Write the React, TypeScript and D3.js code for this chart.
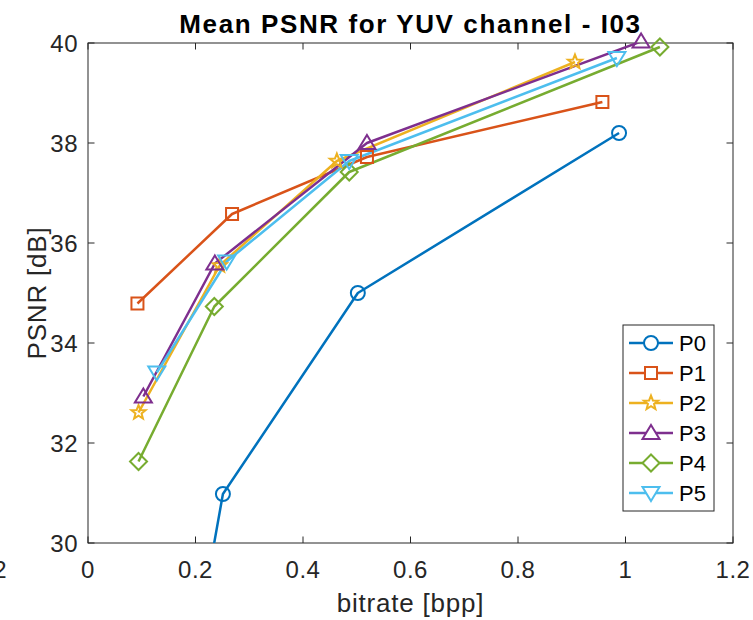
import React from "react";
import * as d3 from "d3";

// series names and MATLAB default colours
const seriesNames = ["P0", "P1", "P2", "P3", "P4", "P5"];
const seriesColors = ["#0072BD", "#D95319", "#EDB120", "#7E2F8E", "#77AC30", "#4DBEEE"];
const seriesMarkers = ["circle", "square", "star", "triUp", "diamond", "triDown"];

// bitrate [bpp] per series
const bitrateP0 = [0.205, 0.251, 0.502, 0.988];
const bitrateP1 = [0.092, 0.268, 0.519, 0.957];
const bitrateP2 = [0.094, 0.245, 0.463, 0.906];
const bitrateP3 = [0.103, 0.236, 0.519, 1.029];
const bitrateP4 = [0.094, 0.235, 0.486, 1.064];
const bitrateP5 = [0.128, 0.258, 0.486, 0.984];

// PSNR [dB] per series
const psnrP0 = [28.2, 30.98, 35.0, 38.2];
const psnrP1 = [34.79, 36.58, 37.72, 38.82];
const psnrP2 = [32.61, 35.55, 37.64, 39.62];
const psnrP3 = [32.93, 35.59, 38.0, 40.03];
const psnrP4 = [31.63, 34.73, 37.42, 39.92];
const psnrP5 = [33.41, 35.63, 37.64, 39.7];

const xTicks = [0, 0.2, 0.4, 0.6, 0.8, 1, 1.2];
const yTicks = [30, 32, 34, 36, 38, 40];

const bitrates = [bitrateP0, bitrateP1, bitrateP2, bitrateP3, bitrateP4, bitrateP5];
const psnrs = [psnrP0, psnrP1, psnrP2, psnrP3, psnrP4, psnrP5];

const W = 753;
const H = 620;
const margin = { top: 43, right: 20, bottom: 77, left: 88 };
const font = "'Liberation Sans', Arial, Helvetica, sans-serif";
const axisColor = "#262626";

function markerPath(kind: string): string {
  switch (kind) {
    case "circle":
      return "M7,0A7,7 0 1,1 -7,0A7,7 0 1,1 7,0Z";
    case "square":
      return "M-6,-6H6V6H-6Z";
    case "diamond":
      return "M0,-8.5L8.5,0L0,8.5L-8.5,0Z";
    case "triUp":
      return "M0,-8L8.5,6L-8.5,6Z";
    case "triDown":
      return "M0,8L8.5,-6L-8.5,-6Z";
    case "star": {
      const pts: string[] = [];
      for (let i = 0; i < 10; i++) {
        const r = i % 2 === 0 ? 7.5 : 3.2;
        const a = -Math.PI / 2 + (i * Math.PI) / 5;
        pts.push(`${(r * Math.cos(a)).toFixed(2)},${(r * Math.sin(a)).toFixed(2)}`);
      }
      return "M" + pts.join("L") + "Z";
    }
  }
  return "";
}

const App: React.FC = () => {
  const x = d3.scaleLinear().domain([0, 1.2]).range([margin.left, W - margin.right]);
  const y = d3.scaleLinear().domain([30, 40]).range([H - margin.bottom, margin.top]);
  const x0 = x.range()[0];
  const x1 = x.range()[1];
  const y0 = y.range()[0];
  const y1 = y.range()[1];

  const line = d3
    .line<[number, number]>()
    .x((d) => x(d[0]))
    .y((d) => y(d[1]));

  const fmt = (v: number) => (v === 0 || v === 1 ? String(v) : v.toFixed(1));

  const legendX = 623;
  const legendY = 325;
  const legendRow = 30;

  return (
    <div style={{ position: "fixed", left: 0, top: 0 }}>
      <svg width={W} height={H} style={{ display: "block", background: "#fff" }} fontFamily={font}>
        <defs>
          <clipPath id="plot-clip">
            <rect x={x0} y={y1} width={x1 - x0} height={y0 - y1} />
          </clipPath>
        </defs>

        {/* neighbouring subplot's last tick label, cut at the figure edge */}
        <text x={7} y={578} textAnchor="end" fontSize={24} letterSpacing={0.5} fill={axisColor}>
          1.2
        </text>

        {/* axes box */}
        <rect x={x0} y={y1} width={x1 - x0} height={y0 - y1} fill="none" stroke={axisColor} strokeWidth={1} />

        {xTicks.map((t) => (
          <g key={"x" + t}>
            <line x1={x(t)} x2={x(t)} y1={y0} y2={y0 - 6.5} stroke={axisColor} />
            <line x1={x(t)} x2={x(t)} y1={y1} y2={y1 + 6.5} stroke={axisColor} />
            <text x={x(t)} y={578} textAnchor="middle" fontSize={24} letterSpacing={0.5} fill={axisColor}>
              {fmt(t)}
            </text>
          </g>
        ))}
        {yTicks.map((t) => (
          <g key={"y" + t}>
            <line x1={x0} x2={x0 + 6.5} y1={y(t)} y2={y(t)} stroke={axisColor} />
            <line x1={x1} x2={x1 - 6.5} y1={y(t)} y2={y(t)} stroke={axisColor} />
            <text x={78} y={y(t) + 8.5} textAnchor="end" fontSize={24} letterSpacing={0.5} fill={axisColor}>
              {t}
            </text>
          </g>
        ))}

        {/* series lines */}
        <g clipPath="url(#plot-clip)">
          {seriesNames.map((name, i) => (
            <path
              key={name}
              d={line(bitrates[i].map((b, j) => [b, psnrs[i][j]] as [number, number])) || ""}
              fill="none"
              stroke={seriesColors[i]}
              strokeWidth={2.5}
              strokeLinejoin="round"
            />
          ))}
        </g>

        {/* series markers */}
        {seriesNames.map((name, i) =>
          bitrates[i].map((b, j) =>
            psnrs[i][j] < 30 ? null : (
              <path
                key={name + j}
                transform={`translate(${x(b)},${y(psnrs[i][j])})`}
                d={markerPath(seriesMarkers[i])}
                fill="none"
                stroke={seriesColors[i]}
                strokeWidth={2}
              />
            )
          )
        )}

        {/* title and axis labels */}
        <text
          x={(x0 + x1) / 2}
          y={33}
          textAnchor="middle"
          fontSize={26}
          letterSpacing={1.6}
          fontWeight="bold"
          fill="#000"
        >
          Mean PSNR for YUV channel - I03
        </text>
        <text x={(x0 + x1) / 2} y={612} textAnchor="middle" fontSize={26} letterSpacing={0.8} fill={axisColor}>
          bitrate [bpp]
        </text>
        <text
          transform={`translate(46,${(y0 + y1) / 2}) rotate(-90)`}
          textAnchor="middle"
          fontSize={26}
          letterSpacing={0.8}
          fill={axisColor}
        >
          PSNR [dB]
        </text>

        {/* legend */}
        <rect
          x={legendX}
          y={legendY}
          width={91}
          height={186}
          fill="#fff"
          stroke={axisColor}
          strokeWidth={1}
        />
        {seriesNames.map((name, i) => {
          const ly = legendY + 18 + i * legendRow;
          return (
            <g key={"leg" + name}>
              <line x1={629} x2={673} y1={ly} y2={ly} stroke={seriesColors[i]} strokeWidth={2.5} />
              <path
                transform={`translate(651,${ly})`}
                d={markerPath(seriesMarkers[i])}
                fill="#fff"
                stroke={seriesColors[i]}
                strokeWidth={2}
              />
              <text x={679} y={ly + 8} fontSize={22} fill="#000">
                {name}
              </text>
            </g>
          );
        })}
      </svg>
    </div>
  );
};

export default App;
